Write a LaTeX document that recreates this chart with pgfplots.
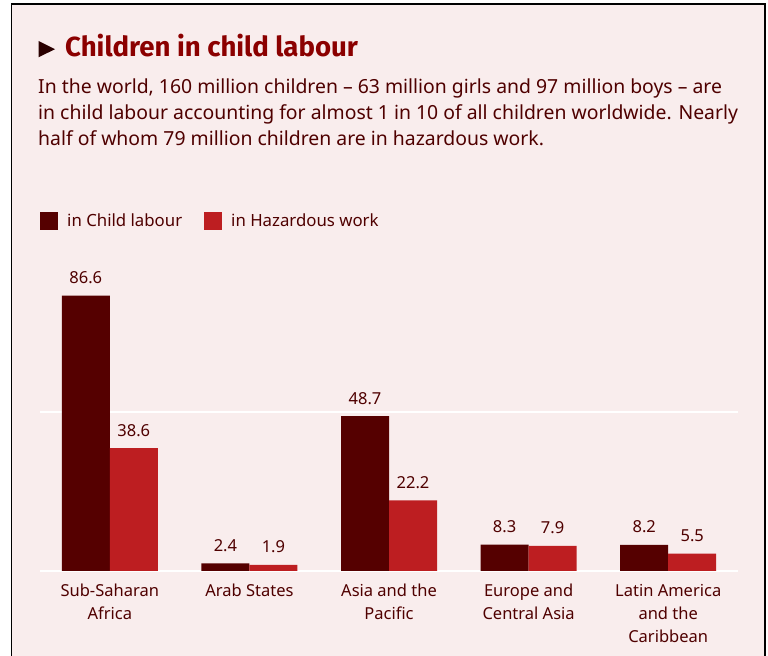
\documentclass[border=0pt]{standalone}
\usepackage{pgfplots}
\pgfplotsset{compat=1.18}
\usepackage{fontspec}
\setmainfont{Noto Sans}
\newfontfamily\titlefont{Fira Sans}
\definecolor{bgpink}{HTML}{F9EDED}
\definecolor{darkbar}{HTML}{550000}
\definecolor{redbar}{HTML}{BD1E21}
\definecolor{txt}{HTML}{4F0000}
\definecolor{ttl}{HTML}{8B0000}
\definecolor{tri}{HTML}{2A0000}
\begin{document}
\begin{tikzpicture}[x=1bp,y=1bp]
\path[use as bounding box] (0,0) rectangle (768,656);
\fill[white] (0,0) rectangle (768,656);
\draw[line width=1.6bp, fill=bgpink] (11.5,-20) rectangle (765,652);
% title
\fill[tri] (38.5,598.7) -- (38.5,615) -- (55,606.8) -- cycle;
\node[anchor=base west, inner sep=0pt, text=ttl, font=\titlefont\bfseries\fontsize{27.6bp}{30bp}\selectfont] at (65,599) {Children in child labour};
% body
\begin{scope}[every node/.style={anchor=base west, inner sep=0pt, text=txt, font=\fontsize{19.4bp}{26bp}\selectfont}]
\node at (38,562) {In the world, 160 million children -- 63 million girls and 97 million boys -- are};
\node at (38,536) {in child labour accounting for almost 1 in 10 of all children worldwide. Nearly};
\node at (38,510) {half of whom 79 million children are in hazardous work.};
\end{scope}
% legend
\fill[darkbar] (40,426) rectangle (58,444);
\node[anchor=base west, inner sep=0pt, text=txt, font=\fontsize{16.8bp}{20bp}\selectfont] at (67,429) {in Child labour};
\fill[redbar] (204,426) rectangle (222,444);
\node[anchor=base west, inner sep=0pt, text=txt, font=\fontsize{16.8bp}{20bp}\selectfont] at (231,429) {in Hazardous work};
\begin{axis}[
  at={(40bp,85bp)}, anchor=south west,
  scale only axis, width=698bp, height=318bp,
  ybar=0pt, bar width=48bp,
  xmin=-0.5, xmax=4.5, ymin=0, ymax=100,
  axis line style={draw=none},
  tick style={draw=none},
  ytick={0,50}, yticklabels={},
  ymajorgrids, grid style={white, line width=1.5bp},
  xtick={0,1,2,3,4},
  xticklabels={{Sub-Saharan\\Africa},{Arab States},{Asia and the\\Pacific},{Europe and\\Central Asia},{Latin America\\and the\\Caribbean}},
  xticklabel style={align=center, text=txt, font=\fontsize{16.5bp}{23bp}\selectfont, anchor=north, inner sep=0pt, yshift=-8.5bp},
  /pgf/number format/assume math mode=true,
  /pgf/number format/fixed, /pgf/number format/precision=1,
  nodes near coords,
  every node near coord/.append style={anchor=base, inner sep=0pt, yshift=12bp, text=txt, font=\fontsize{16.5bp}{20bp}\selectfont},
]
\addplot[fill=darkbar, draw=none] coordinates {(0,86.6) (1,2.4) (2,48.7) (3,8.3) (4,8.2)};
\addplot[fill=redbar, draw=none] coordinates {(0,38.6) (1,1.9) (2,22.2) (3,7.9) (4,5.5)};
\end{axis}
\end{tikzpicture}
\end{document}
